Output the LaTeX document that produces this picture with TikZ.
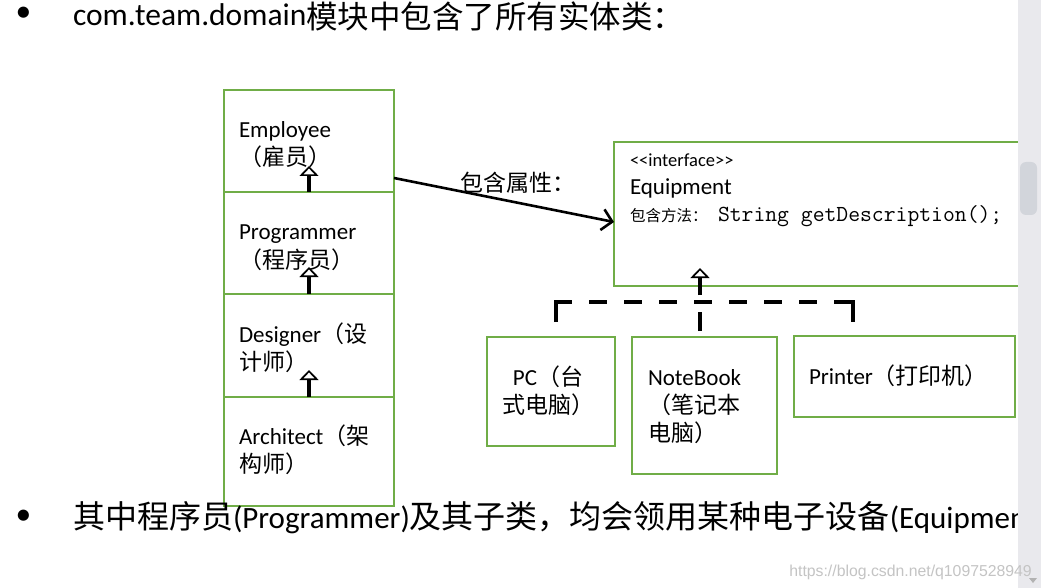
\documentclass[tikz,border=0pt]{standalone}
\usepackage{fontspec}
\setmainfont{Carlito}
\newfontfamily\cjk{Noto Sans CJK SC}
\newfontfamily\wmfont{Liberation Sans}
\usetikzlibrary{arrows.meta}
\definecolor{boxgreen}{HTML}{70AD47}
\definecolor{sbar}{HTML}{E9E9ED}
\definecolor{sthumb}{HTML}{D2D5DB}
\definecolor{wmgray}{HTML}{C4C4C4}
\newcommand\zh[1]{{\cjk #1}}
\begin{document}
\begin{tikzpicture}[x=1pt,y=-1pt,
  box/.style={draw=boxgreen,line width=2.8pt,inner sep=0pt,outer sep=0pt,anchor=north west},
  txt/.style={anchor=base west,inner sep=0pt,outer sep=0pt,font=\fontsize{23}{28}\selectfont},
  inh/.style={line width=4.5pt,-{Triangle[open,line width=1.7pt,width=19pt,length=10pt]}},
  dline/.style={line width=4.5pt,dash pattern=on 36pt off 17pt on 18pt off 17pt on 18pt off 17pt on 18pt off 17pt on 18pt off 17pt on 18pt off 17pt on 18pt off 17pt on 18pt off 17pt on 40pt off 17pt},
  assoc/.style={line width=2.6pt,-{Straight Barb[length=10pt,width=21pt,line width=2.6pt]}},
  bul/.style={anchor=center,inner sep=0pt,font=\fontsize{31.5}{36}\selectfont},
]
\useasboundingbox (0,0) rectangle (1041,588);
\fill[white] (0,0) rectangle (1041,588);

% title line
\node[bul] (b1) at (23.5,14) {•};
\node[txt,font=\fontsize{31.5}{36}\selectfont] (title) at (73,26) {com.team.domain\raisebox{-3pt}{\zh{模块中包含了所有实体类：}}};

% class hierarchy boxes
\node[box,minimum width=170pt,minimum height=102pt] (emp) at (224,90) {};
\node[box,minimum width=170pt,minimum height=102pt] (prog) at (224,192) {};
\node[box,minimum width=170pt,minimum height=103pt] (des) at (224,294) {};
\node[box,minimum width=170pt,minimum height=109pt] (arch) at (224,397) {};

\node[txt] (empA) at (239,138) {Employee};
\node[txt] (empB) at (239,166) {\zh{（雇员）}};
\node[txt] (progA) at (239,240) {Programmer};
\node[txt] (progB) at (239,268) {\zh{（程序员）}};
\node[txt] (desA) at (239,342) {Designer\zh{（设}};
\node[txt] (desB) at (239,370) {\zh{计师）}};
\node[txt] (archA) at (239,444) {Architect\zh{（架}};
\node[txt] (archB) at (239,472) {\zh{构师）}};

\draw[inh] (prog.north) -- ++(0,-26);
\draw[inh] (des.north) -- ++(0,-27);
\draw[inh] (arch.north) -- ++(0,-27);

% interface box
\node[box,minimum width=430pt,minimum height=144pt] (equip) at (614,142) {};
\node[txt,font=\fontsize{18.5}{22}\selectfont] (eq1) at (630,167) {<\kern0pt<interface>\kern0pt>};
\node[txt] (eq2) at (630,195) {Equipment};
\node[txt,font=\fontsize{15.5}{19}\selectfont\cjk] (eq3) at (630,222) {包含方法：};
\node[txt,font=\fontsize{23}{27}\selectfont\ttfamily] (eq4) at (718,222) {String getDescription();};

% association
\draw[assoc] ([yshift=-37pt]emp.east) -- ([yshift=-8pt]equip.west);
\node[txt,font=\fontsize{23}{28}\selectfont\cjk] (assocl) at (460,192) {包含属性：};

% implementations
\node[box,minimum width=128pt,minimum height=109pt] (pc) at (487,337) {};
\node[box,minimum width=145pt,minimum height=137pt] (nb) at (632,337) {};
\node[box,minimum width=221pt,minimum height=81pt] (pr) at (794,336) {};

\node[txt,anchor=base] (pcA) at (548,385) {PC\zh{（台}};
\node[txt,anchor=base] (pcB) at (548,413) {\zh{式电脑）}};
\node[txt] (nbA) at (648,385) {NoteBook};
\node[txt] (nbB) at (648,413) {\zh{（笔记本}};
\node[txt] (nbC) at (648,441) {\zh{电脑）}};
\node[txt] (prA) at (809,384) {Printer\zh{（打印机）}};

\coordinate (pcT) at (556,322);
\coordinate (prT) at (853,322);
\coordinate (jl) at (556,302);
\coordinate (jr) at (853,302);
\coordinate (nbT) at (700,331);
\coordinate (eqB) at (700,268);
\draw[dline] (pcT) -- (jl) -- (jr) -- (prT);
\draw[line width=4.5pt,dash pattern=on 19pt off 17pt,-{Triangle[open,line width=1.7pt,width=19pt,length=10pt]}] (nbT) -- (eqB);

% bottom line
\node[bul] (b2) at (23.5,517) {•};
\node[txt,font=\fontsize{31}{36}\selectfont] (bottom) at (73,528) {\zh{\fontsize{32}{38}\selectfont 其中程序员}(Programmer)\zh{\fontsize{32}{38}\selectfont 及其子类，均会领用某种电子设备}(Equipment};

% scrollbar
\fill[sbar] (1018,0) rectangle (1041,588);
\fill[sthumb,rounded corners=6pt] (1020,162) rectangle (1037,215);
\fill[gray!60] (1029,578) -- (1037,578) -- (1033,583) -- cycle;

% watermark
\node[anchor=base east,inner sep=0pt,font=\wmfont\fontsize{15.8}{18}\selectfont,text=wmgray] (wm) at (1032,576) {https://blog.csdn.net/q1097528949};
\end{tikzpicture}
\end{document}
